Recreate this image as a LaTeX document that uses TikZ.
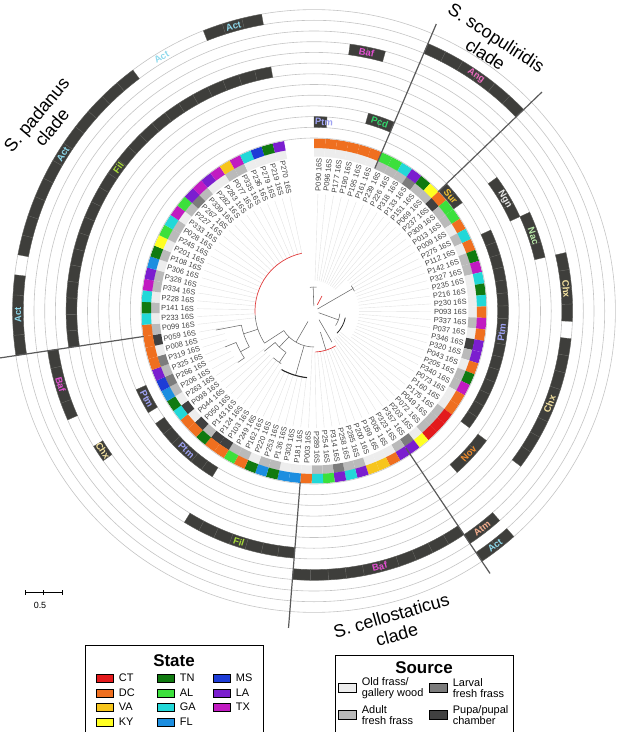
\documentclass[tikz,border=0pt]{standalone}
\usepackage{fontspec}
\setmainfont{Liberation Sans}

\definecolor{stCT}{HTML}{E31A1C}
\definecolor{stDC}{HTML}{EF6F1F}
\definecolor{stVA}{HTML}{F7C51C}
\definecolor{stKY}{HTML}{FFFF22}
\definecolor{stTN}{HTML}{107A10}
\definecolor{stAL}{HTML}{3CE03C}
\definecolor{stGA}{HTML}{22D8D8}
\definecolor{stFL}{HTML}{1C8EE0}
\definecolor{stMS}{HTML}{1D3CD6}
\definecolor{stLA}{HTML}{7B1ECF}
\definecolor{stTX}{HTML}{C11BC1}
\definecolor{srcO}{HTML}{EDEDED}
\definecolor{srcA}{HTML}{BABABA}
\definecolor{srcL}{HTML}{7C7C7C}
\definecolor{srcP}{HTML}{404040}
\definecolor{barfill}{HTML}{3E3E3B}
\definecolor{barsep}{HTML}{5E5E5A}
\definecolor{ringgray}{HTML}{C4C4C4}
\definecolor{leafgray}{HTML}{404040}
\definecolor{leadgray}{HTML}{E2E2E2}
\definecolor{treegray}{HTML}{6A6A6A}
\definecolor{treeredc}{HTML}{E03A3A}
\definecolor{cladegray}{HTML}{5A5A5A}
\definecolor{cAct}{HTML}{8FD9EC}
\definecolor{cAng}{HTML}{E96BBD}
\definecolor{cAtm}{HTML}{F4AE8E}
\definecolor{cBaf}{HTML}{E350D2}
\definecolor{cChx}{HTML}{F5E3A1}
\definecolor{cFil}{HTML}{A8DA3A}
\definecolor{cNac}{HTML}{B8E8A8}
\definecolor{cNgn}{HTML}{E6E6E6}
\definecolor{cNov}{HTML}{EF8B2B}
\definecolor{cPcd}{HTML}{33D66C}
\definecolor{cPtm}{HTML}{9EA2F2}
\definecolor{cSur}{HTML}{F3C232}

\newcommand\dang{3.846}
% one cell of a ring: style, leaf number, inner and outer radius
\newcommand\ringcell[4]{%
  \pgfmathsetmacro\cellA{90-(#2-1)*\dang}%
  \pgfmathsetmacro\cellB{90-(#2)*\dang}%
  \path[#1] (\cellA:#3) arc[start angle=\cellA,end angle=\cellB,radius=#3]
    -- (\cellB:#4) arc[start angle=\cellB,end angle=\cellA,radius=#4] -- cycle;}
\newcommand\genbar[3]{%
  \pgfmathsetmacro\rin{173+(#1-1)*10.7}%
  \pgfmathsetmacro\rout{173+#1*10.7}%
  \foreach \cl in {#2,...,#3}{\ringcell{barcell}{\cl}{\rin}{\rout}}}
\newcommand\genlab[5]{%
  \pgfmathsetmacro\rmid{173+(#2-0.5)*10.7}%
  \pgfmathsetmacro\rot{#3<=182 ? #3-90 : #3+90}%
  \node[barlab, text=#5, rotate=\rot] (#1) at (#3:\rmid) {#4};}

\begin{document}
\begin{tikzpicture}[x=1bp, y=1bp,
  leaf/.style={text=leafgray, inner sep=0.4bp, font=\fontsize{7.5}{8}\selectfont},
  barlab/.style={inner sep=0, font=\bfseries\fontsize{9.5}{10}\selectfont},
  barcell/.style={fill=barfill, draw=barsep, line width=0.3bp},
  ringline/.style={draw=ringgray, line width=0.6bp},
  leader/.style={draw=leadgray, line width=0.4bp},
  cladeline/.style={draw=cladegray, line width=1.2bp},
  cladelab/.style={align=center, font=\fontsize{18}{20}\selectfont}]
  \tikzstyle{treeline}=[draw=treegray, line width=0.55bp]
  \tikzstyle{treered}=[draw=treeredc, line width=0.7bp]
  \tikzstyle{treeblack}=[draw=black!85, line width=1.1bp]
  \tikzstyle{legbox}=[draw=black, line width=1bp, fill=white]
  \tikzstyle{legtitle}=[font=\bfseries\fontsize{17}{18}\selectfont]
  \tikzstyle{legtxt}=[inner sep=0, align=left, font=\fontsize{11}{11.5}\selectfont]
  \tikzstyle{swatch}=[draw=black, line width=0.7bp, minimum width=17bp, minimum height=8bp, inner sep=0]
  \useasboundingbox (0,0) rectangle (617,-732);

  \begin{scope}[shift={(314,-311)}]
  % leaves, source ring and state ring
  \foreach \i/\nm/\st/\sr in {1/P090/DC/O, 2/P096/DC/O, 3/P177/DC/O, 4/P190/DC/O,
    5/P195/DC/O, 6/P161/DC/O, 7/P239/AL/A, 8/P226/AL/A, 9/P318/GA/A, 10/P133/LA/L,
    11/P151/TN/A, 12/P069/KY/A, 13/P237/DC/P, 14/P309/AL/A, 15/P013/AL/A,
    16/P009/DC/O, 17/P275/GA/A, 18/P112/DC/O, 19/P142/TN/A, 20/P327/TX/A,
    21/P235/GA/O, 22/P216/TN/O, 23/P230/GA/O, 24/P093/DC/O, 25/P337/TX/A,
    26/P037/DC/O, 27/P346/LA/P, 28/P320/LA/A, 29/P043/DC/O, 30/P205/TN/A,
    31/P340/TX/A, 32/P073/DC/O, 33/P160/DC/O, 34/P175/CT/A, 35/P049/CT/A,
    36/P072/CT/A, 37/P203/KY/O, 38/P357/LA/L, 39/P323/LA/A, 40/P005/DC/O,
    41/P199/VA/O, 42/P200/VA/O, 43/P285/LA/A, 44/P258/GA/A, 45/P314/LA/L,
    46/P254/AL/A, 47/P289/GA/A, 48/P003/DC/O, 49/P181/FL/O, 50/P303/FL/O,
    51/P136/TN/A, 52/P253/FL/A, 53/P220/TN/O, 54/P162/DC/A, 55/P249/AL/A,
    56/P103/DC/P, 57/P124/DC/P, 58/P143/TN/A, 59/P050/DC/P, 60/P044/DC/O,
    61/P098/GA/P, 62/P263/TN/O, 63/P206/FL/A, 64/P266/MS/L, 65/P325/LA/A,
    66/P319/DC/L, 67/P008/DC/O, 68/P059/DC/P, 69/P099/DC/A, 70/P233/GA/O,
    71/P141/TN/A, 72/P228/GA/O, 73/P334/TX/A, 74/P328/LA/A, 75/P306/FL/O,
    76/P108/TN/A, 77/P201/KY/O, 78/P245/AL/A, 79/P028/GA/A, 80/P333/TX/O,
    81/P227/AL/A, 82/P267/LA/L, 83/P339/TX/A, 84/P282/LA/O, 85/P283/TX/O,
    86/P077/VA/A, 87/P335/TX/A, 88/P236/GA/O, 89/P279/MS/O, 90/P219/TN/O,
    91/P270/LA/O}{
    \pgfmathsetmacro\ang{88.077-(\i-1)*\dang}
    \pgfmathsetmacro\rtip{\i<=12 ? 30 : (\i<=33 ? 45 : (\i<=38 ? 34 : (\i<=47 ? 41 : (\i<=48 ? 36 : (\i<=55 ? 67 : (\i<=61 ? 62 : (\i<=68 ? 92 : 59)))))))}
    \draw[leader] (\ang:\rtip) -- (\ang:117);
    \ringcell{fill=src\sr}{\i}{154.5}{163.2}
    \ringcell{fill=st\st}{\i}{163}{172.5}
    \pgfmathtruncatemacro\onleft{\ang<-90 ? 1 : 0}
    \ifnum\onleft=1
      \pgfmathsetmacro\rt{\ang+180}
      \node[leaf, anchor=west, rotate=\rt] (lf\i) at (\ang:153.5) {\nm\ 16S};
    \else
      \node[leaf, anchor=east, rotate=\ang] (lf\i) at (\ang:153.5) {\nm\ 16S};
    \fi
  }

  % tree
  \draw[treered] (102:59) arc[start angle=102,end angle=184,radius=59];
  \draw[treeline] (184:59) arc[start angle=184,end angle=213,radius=59];
  \draw[treeline] (213:59) -- (213:36);
  \draw[treeline] (213:36) arc[start angle=213,end angle=270,radius=36];
  \draw[treeline] (240:36) -- (240:12);
  \draw[treeline] (254:36) -- (254:67);
  \draw[treeblack] (241:67) arc[start angle=241,end angle=264,radius=67];
  \draw[treeline] (198:59) -- (198:74);
  \draw[treeline] (191:74) arc[start angle=191,end angle=209,radius=74];
  \draw[treeline] (191:74) -- (191:100);
  \draw[treeline] (209:74) -- (209:84);
  \draw[treeline] (202:84) arc[start angle=202,end angle=214,radius=84];
  \draw[treeline] (202:84) -- (202:96);
  \draw[treeline] (214:84) -- (214:92);
  \draw[treeline] (226:36) -- (226:50);
  \draw[treeline] (219:50) arc[start angle=219,end angle=236,radius=50];
  \draw[treeline] (219:50) -- (219:64);
  \draw[treeline] (236:50) -- (236:62);
  \draw[treeline] (229:62) arc[start angle=229,end angle=238,radius=62];
  \draw[treeline] (287:22) -- (287:41);
  \draw[treered] (272:41) arc[start angle=272,end angle=302,radius=41];
  \draw[treeline] (300:10) -- (300:36);
  \draw[treeline] (30:4) -- (30:45);
  \draw[treeline] (26:45) arc[start angle=26,end angle=34,radius=45];
  \draw[treeline] (92:5) -- (92:24);
  \draw[treeline] (84:24) arc[start angle=84,end angle=100,radius=24];
  \draw[treered] (62:7) -- (62:17);
  \draw[treeline] (-20:5) -- (-20:26);
  \draw[treeline] (-34:26) arc[start angle=-34,end angle=-6,radius=26];
  \draw[treeblack, line width=0.8bp] (-12:32) arc[start angle=-12,end angle=-44,radius=32];

  % data tracks
  \foreach \k in {0,...,12}{
    \pgfmathsetmacro\rr{173+\k*10.7}
    \draw[ringline] (0,0) circle[radius=\rr];
  }
  \genbar{1}{13}{14}
  \genbar{2}{1}{1} \genbar{2}{18}{33} \genbar{2}{56}{61} \genbar{2}{63}{64}
  \genbar{3}{5}{6}
  \genbar{4}{34}{36}
  \genbar{5}{15}{17}
  \genbar{6}{18}{20}
  \genbar{7}{49}{55} \genbar{7}{69}{91}
  \genbar{8}{21}{24} \genbar{8}{26}{33} \genbar{8}{62}{62}
  \genbar{9}{3}{4} \genbar{9}{39}{48} \genbar{9}{65}{68}
  \genbar{10}{37}{38}
  \genbar{11}{7}{12}
  \genbar{12}{37}{38} \genbar{12}{69}{72} \genbar{12}{74}{84} \genbar{12}{89}{91}

  \genlab{sur}{1}{40}{Sur}{cSur}
  \genlab{ptm1}{2}{87}{Ptm}{cPtm}
  \genlab{ptm2}{2}{353.4}{Ptm}{cPtm}
  \genlab{ptm3}{2}{227.5}{Ptm}{cPtm}
  \genlab{ptm4}{2}{207.7}{Ptm}{cPtm}
  \genlab{pcd}{3}{70.8}{Pcd}{cPcd}
  \genlab{nov}{4}{317.3}{Nov}{cNov}
  \genlab{ngn}{5}{30.4}{Ngn}{cNgn}
  \genlab{nac}{6}{18.9}{Nac}{cNac}
  \genlab{fil1}{7}{143.8}{Fil}{cFil}
  \genlab{fil2}{7}{252}{Fil}{cFil}
  \genlab{chx1}{8}{5}{Chx}{cChx}
  \genlab{chx2}{8}{338.5}{Chx}{cChx}
  \genlab{chx3}{8}{213.5}{Chx}{cChx}
  \genlab{baf1}{9}{78.5}{Baf}{cBaf}
  \genlab{baf2}{9}{284.4}{Baf}{cBaf}
  \genlab{baf3}{9}{196.2}{Baf}{cBaf}
  \genlab{atm}{10}{307.7}{Atm}{cAtm}
  \genlab{ang}{11}{55.4}{Ang}{cAng}
  \genlab{act1}{12}{307.7}{Act}{cAct}
  \genlab{act2}{12}{180.8}{Act}{cAct}
  \genlab{act3}{12}{148}{Act}{cAct}
  \genlab{act4}{12}{121}{Act}{cAct}
  \genlab{act5}{12}{105.8}{Act}{cAct}

  % clade borders
  \coordinate (s1a) at (66.92:155);  \coordinate (s1b) at (66.92:312);
  \coordinate (s2a) at (43.85:172);  \coordinate (s2b) at (43.85:316);
  \coordinate (s3a) at (-56.15:165); \coordinate (s3b) at (-56.15:316);
  \coordinate (s4a) at (265.4:172);  \coordinate (s4b) at (265.4:318);
  \coordinate (s5a) at (188.5:172);  \coordinate (s5b) at (188.5:318);
  \foreach \s in {1,...,5}{\draw[cladeline] (s\s a) -- (s\s b);}
  \end{scope}

  \node[cladelab, rotate=50] (padanus) at (44,-121) {S. padanus\\clade};
  \node[cladelab, rotate=-33] (scopuliridis) at (491,-46) {S. scopuliridis\\clade};
  \node[cladelab, rotate=16] (cellostaticus) at (394,-625) {S. cellostaticus\\clade};

  % scale bar
  \coordinate (sbl) at (25,-592);
  \coordinate (sbr) at (62,-592);
  \path (sbl) -- (sbr) coordinate[midway] (sbm);
  \draw[line width=0.9bp] (sbl) -- (sbr);
  \foreach \t in {sbl,sbm,sbr}{\draw[line width=0.9bp] ([yshift=-2.5bp]\t) -- ([yshift=2.5bp]\t);}
  \node[font=\fontsize{9}{10}\selectfont] (sblab) at (40,-605) {0.5};

  % state legend
  \node[legbox, anchor=north west, minimum width=178bp, minimum height=87bp] (statebox) at (85,-645) {};
  \node[legtitle] (statetitle) at (174,-661) {State};
  \foreach \n/\x/\y in {CT/96/678, DC/96/693, VA/96/707, KY/96/722,
    TN/157/678, AL/157/693, GA/157/707, FL/157/722, MS/213/678, LA/213/693, TX/213/707}{
    \node[swatch, fill=st\n, anchor=west] (sw\n) at (\x,-\y) {};
    \node[legtxt, anchor=west] (lt\n) at ([xshift=5bp]sw\n.east) {\n};
  }

  % source legend
  \node[legbox, anchor=north west, minimum width=178bp, minimum height=77bp] (sourcebox) at (335,-655) {};
  \node[legtitle] (sourcetitle) at (424,-668) {Source};
  \foreach \s/\x/\y/\txt in {O/338/688/{Old frass/\\gallery wood}, L/429/688/{Larval\\fresh frass},
    A/338/715/{Adult\\fresh frass}, P/429/715/{Pupa/pupal\\chamber}}{
    \node[swatch, fill=src\s, anchor=west, minimum width=18bp, minimum height=9bp] (ss\s) at (\x,-\y) {};
    \node[legtxt, anchor=west] (srct\s) at ([xshift=5bp]ss\s.east) {\txt};
  }
\end{tikzpicture}
\end{document}
